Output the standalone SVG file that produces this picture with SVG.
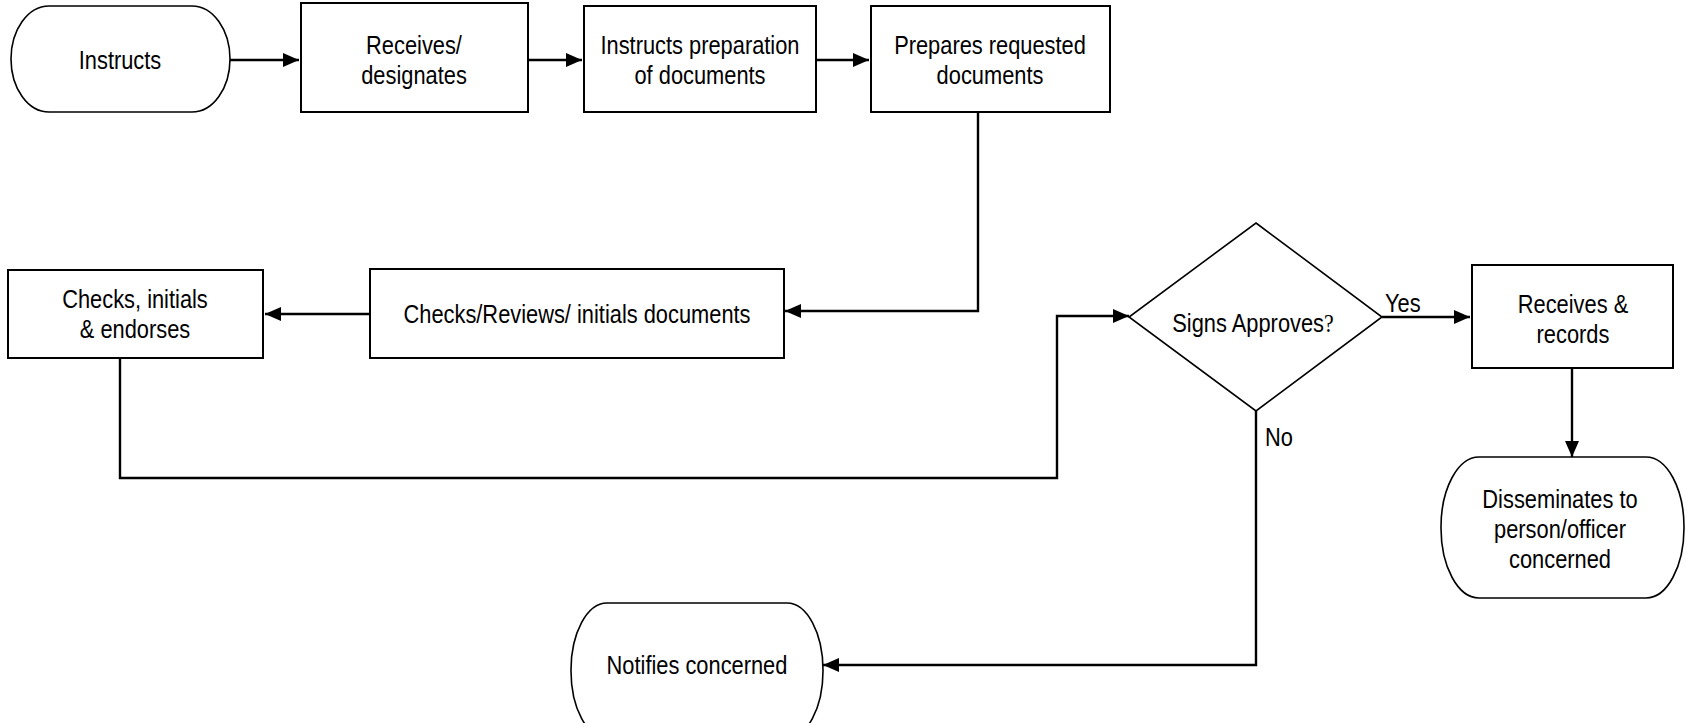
<svg xmlns="http://www.w3.org/2000/svg" width="1686" height="723" viewBox="0 0 1686 723">
<defs>
<marker id="arr" viewBox="0 0 16 14" refX="16" refY="7" markerWidth="16" markerHeight="14" markerUnits="userSpaceOnUse" orient="auto">
<path d="M0,0 L16,7 L0,14 Z" fill="#000"/>
</marker>
<style>
.box{fill:#fff;stroke:#000;stroke-width:2}
.term{fill:#fff;stroke:#000;stroke-width:1.6}
.t{font-family:"Liberation Sans",Arial,sans-serif;font-size:26px;fill:#000;text-anchor:middle}
.tl{font-family:"Liberation Sans",Arial,sans-serif;font-size:26px;fill:#000}
.q{font-family:"Liberation Serif","Times New Roman",serif}
.c{fill:none;stroke:#000;stroke-width:2.4}
</style>
</defs>
<rect width="1686" height="723" fill="#fff"/>
<g id="connectors">
<path class="c" d="M230,60 H299" marker-end="url(#arr)"/>
<path class="c" d="M528,60 H582" marker-end="url(#arr)"/>
<path class="c" d="M816,60 H869" marker-end="url(#arr)"/>
<path class="c" d="M978,112 V311 H785" marker-end="url(#arr)"/>
<path class="c" d="M370,314 H265" marker-end="url(#arr)"/>
<path class="c" d="M120,358 V478 H1057 V316 H1129" marker-end="url(#arr)"/>
<path class="c" d="M1382,317 H1470" marker-end="url(#arr)"/>
<path class="c" d="M1572,368 V457" marker-end="url(#arr)"/>
<path class="c" d="M1256,411 V665 H823" marker-end="url(#arr)"/>
<text class="tl" transform="matrix(0.84,0,0,1,1385,312)">Yes</text>
<text class="tl" transform="matrix(0.84,0,0,1,1265,446)">No</text>
</g>
<g id="n1">
<rect class="term" x="11" y="6" width="219" height="106" rx="38" ry="53"/>
<text class="t" transform="matrix(0.84,0,0,1,120,69)">Instructs</text>
</g>
<g id="n2">
<rect class="box" x="301" y="3" width="227" height="109"/>
<text class="t" transform="matrix(0.84,0,0,1,414,54)">Receives/</text>
<text class="t" transform="matrix(0.84,0,0,1,414,84)">designates</text>
</g>
<g id="n3">
<rect class="box" x="584" y="6" width="232" height="106"/>
<text class="t" transform="matrix(0.84,0,0,1,700,54)">Instructs preparation</text>
<text class="t" transform="matrix(0.84,0,0,1,700,84)">of documents</text>
</g>
<g id="n4">
<rect class="box" x="871" y="6" width="239" height="106"/>
<text class="t" transform="matrix(0.84,0,0,1,990,54)">Prepares requested</text>
<text class="t" transform="matrix(0.84,0,0,1,990,84)">documents</text>
</g>
<g id="n5">
<rect class="box" x="370" y="269" width="414" height="89"/>
<text class="t" transform="matrix(0.84,0,0,1,577,323)">Checks/Reviews/ initials documents</text>
</g>
<g id="n6">
<rect class="box" x="8" y="270" width="255" height="88"/>
<text class="t" transform="matrix(0.84,0,0,1,135,308)">Checks, initials</text>
<text class="t" transform="matrix(0.84,0,0,1,135,338)">&amp; endorses</text>
</g>
<g id="n7">
<polygon class="term" points="1256,223 1382,317 1256,411 1129,317"/>
<text class="t" transform="matrix(0.84,0,0,1,1253,332)">Signs Approves<tspan class="q">?</tspan></text>
</g>
<g id="n8">
<rect class="box" x="1472" y="265" width="201" height="103"/>
<text class="t" transform="matrix(0.84,0,0,1,1573,313)">Receives &amp;</text>
<text class="t" transform="matrix(0.84,0,0,1,1573,343)">records</text>
</g>
<g id="n9">
<rect class="term" x="1441" y="457" width="243" height="141" rx="38" ry="70"/>
<text class="t" transform="matrix(0.84,0,0,1,1560,508)">Disseminates to</text>
<text class="t" transform="matrix(0.84,0,0,1,1560,538)">person/officer</text>
<text class="t" transform="matrix(0.84,0,0,1,1560,568)">concerned</text>
</g>
<g id="n10">
<rect class="term" x="571" y="603" width="252" height="135" rx="36" ry="67"/>
<text class="t" transform="matrix(0.84,0,0,1,697,674)">Notifies concerned</text>
</g>
</svg>
